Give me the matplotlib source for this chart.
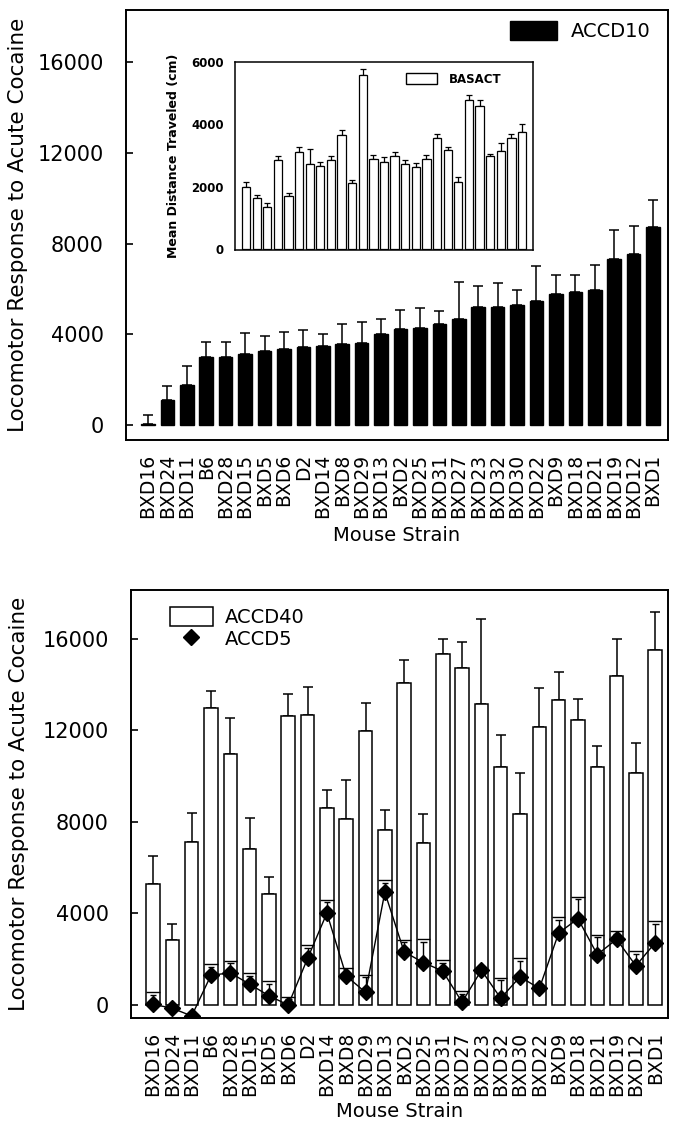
import matplotlib
matplotlib.use("Agg")
import matplotlib.pyplot as plt
import matplotlib.patches as patches
from matplotlib.lines import Line2D
import numpy as np

strains = ["BXD16", "BXD24", "BXD11", "B6", "BXD28", "BXD15", "BXD5", "BXD6", "D2",
           "BXD14", "BXD8", "BXD29", "BXD13", "BXD2", "BXD25", "BXD31", "BXD27",
           "BXD23", "BXD32", "BXD30", "BXD22", "BXD9", "BXD18", "BXD21", "BXD19",
           "BXD12", "BXD1"]

# top panel: ACCD10 mean and upper error bar
accd10 = [70, 1110, 1790, 2990, 3020, 3120, 3280, 3370, 3460, 3480, 3560, 3620, 4040,
          4220, 4290, 4470, 4670, 5200, 5200, 5300, 5490, 5780, 5870, 5970, 7340,
          7540, 8730]
accd10_err = [400, 620, 800, 680, 640, 950, 670, 740, 740, 560, 880, 930, 620,
              850, 890, 570, 1640, 920, 1080, 670, 1510, 850, 760, 1070, 1250,
              1260, 1210]

# inset: baseline activity
basact = [1990, 1640, 1370, 2870, 1715, 3120, 2730, 2660, 2850, 3670, 2140, 5570,
          2900, 2810, 2980, 2730, 2630, 2890, 3550, 3170, 2165, 4770, 4600, 3000,
          3140, 3550, 3760]
basact_err = [180, 110, 110, 110, 90, 150, 480, 140, 130, 140, 90, 210,
              110, 140, 140, 130, 140, 140, 130, 120, 150, 160, 180, 55,
              270, 130, 240]

# bottom panel: ACCD40 bars, ACCD5 points and inner bar tops
accd40 = [5285, 2850, 7110, 12960, 10980, 6820, 4850, 12630, 12670, 8620, 8110,
          11950, 7630, 14080, 7070, 15320, 14730, 13160, 10370, 8330, 12120,
          13310, 12450, 10400, 14380, 10110, 15510]
accd40_err = [1230, 700, 1290, 750, 1560, 1360, 720, 940, 1230, 780, 1720,
              1230, 870, 980, 1260, 650, 1130, 3710, 1420, 1810, 1710,
              1250, 910, 910, 1620, 1330, 1650]
accd5 = [30, -145, -480, 1300, 1400, 910, 400, 0, 2030, 4010, 1270, 550, 4920,
         2320, 1850, 1480, 120, 1520, 290, 1230, 720, 3140, 3770, 2200, 2870,
         1710, 2720]
accd5_top = [550, None, None, 1770, 1940, 1380, 1040, 360, 2610, 4600, 1620, 1330,
             5460, 2850, 2870, 1950, 620, None, 1190, 2060, None, 3840, 4730,
             3070, 3230, 2350, 3660]

plt.rcParams["font.family"] = "DejaVu Sans"
plt.rcParams["axes.linewidth"] = 1.4

fig = plt.figure(figsize=(6.86, 11.27), dpi=100)
x = np.arange(len(strains))

# ---------------- top panel ----------------
ax1 = fig.add_axes([0.1837, 0.6096, 0.790, 0.3816])
ax1.bar(x, accd10, width=0.7, color="black", edgecolor="black", zorder=2)
ax1.errorbar(x, accd10, yerr=[np.zeros(len(x)), accd10_err], fmt="none",
             ecolor="black", elinewidth=1.1, capsize=3.3, capthick=1.1, zorder=1)
ax1.set_xlim(-1.13, 26.77)
ax1.set_ylim(-650, 18300)
ax1.set_yticks([0, 4000, 8000, 12000, 16000])
ax1.set_xticks(x)
ax1.set_xticklabels(strains, rotation=90, fontsize=13.5)
ax1.tick_params(axis="x", length=0, pad=10)
ax1.tick_params(axis="y", direction="in", length=5, width=1.2, labelsize=15, pad=16)
ax1.set_xlabel("Mouse Strain", fontsize=14, labelpad=6)
ax1.set_ylabel("Locomotor Response to Acute Cocaine", fontsize=15.5)
ax1.yaxis.set_label_coords(-0.18, 0.5)
ax1.legend([patches.Patch(facecolor="black", edgecolor="black")], ["ACCD10"],
           loc="upper right", frameon=False, fontsize=14, handlelength=2.4,
           handleheight=1.1, handletextpad=0.7, bbox_to_anchor=(1.0, 1.015))

# inset
axi = fig.add_axes([0.3426, 0.7782, 0.4344, 0.1668])
axi.bar(x, basact, width=0.78, color="white", edgecolor="black", linewidth=0.9, zorder=2)
axi.errorbar(x, basact, yerr=[np.zeros(len(x)), basact_err], fmt="none",
             ecolor="black", elinewidth=0.9, capsize=2.2, capthick=0.9, zorder=1)
axi.set_xlim(-1.04, 27.04)
axi.set_ylim(-20, 6000)
axi.set_yticks([0, 2000, 4000, 6000])
axi.set_yticklabels(["0", "2000", "4000", "6000"], fontweight="bold")
axi.set_xticks([])
axi.tick_params(axis="y", direction="in", length=0, labelsize=8.5, pad=8)
axi.set_ylabel("Mean Distance Traveled (cm)", fontsize=9, fontweight="bold", labelpad=8)
for s in axi.spines.values():
    s.set_linewidth(1.1)
axi.legend([patches.Patch(facecolor="white", edgecolor="black", linewidth=1)], ["BASACT"],
           loc="upper right", frameon=False, prop={"size": 8.5, "weight": "bold"},
           handlelength=2.6, handleheight=1.1, handletextpad=1.0,
           bbox_to_anchor=(0.93, 1.0))

# ---------------- bottom panel ----------------
ax2 = fig.add_axes([0.191, 0.0967, 0.783, 0.3798])
ax2.bar(x, accd40, width=0.7, color="white", edgecolor="black", linewidth=1.1, zorder=2)
ax2.errorbar(x, accd40, yerr=[np.zeros(len(x)), accd40_err], fmt="none",
             ecolor="black", elinewidth=1.1, capsize=3.3, capthick=1.1, zorder=1)

# inner ACCD5 bar tops with short error bars
for xi, top, val in zip(x, accd5_top, accd5):
    if top is None:
        continue
    ax2.hlines(top, xi - 0.35, xi + 0.35, color="black", linewidth=1.0, zorder=3)
    ax2.vlines(xi, val, top - 120, color="black", linewidth=1.0, zorder=3)
    ax2.hlines(top - 120, xi - 0.17, xi + 0.17, color="black", linewidth=1.0, zorder=3)

ax2.plot(x, accd5, color="black", linewidth=1.0, marker="D", markersize=8.5,
         markerfacecolor="black", markeredgecolor="black", zorder=4)

ax2.set_xlim(-1.14, 26.67)
ax2.set_ylim(-570, 18120)
ax2.set_yticks([0, 4000, 8000, 12000, 16000])
ax2.set_xticks(x)
ax2.set_xticklabels(strains, rotation=90, fontsize=13.5)
ax2.tick_params(axis="x", length=0, pad=10)
ax2.tick_params(axis="y", direction="in", length=5, width=1.2, labelsize=15, pad=16)
ax2.set_xlabel("Mouse Strain", fontsize=14, labelpad=4)
ax2.set_ylabel("Locomotor Response to Acute Cocaine", fontsize=15.5)
ax2.yaxis.set_label_coords(-0.19, 0.5)
handles = [patches.Patch(facecolor="white", edgecolor="black", linewidth=1.1),
           Line2D([], [], linestyle="none", marker="D", markersize=8.5, color="black")]
ax2.legend(handles, ["ACCD40", "ACCD5"], loc="upper left", frameon=False, fontsize=14,
           handlelength=2.2, handleheight=1.1, handletextpad=0.6, labelspacing=0.1,
           bbox_to_anchor=(0.04, 1.0))

plt.savefig("out.png", dpi=100)
plt.close()
print("saved out.png")
